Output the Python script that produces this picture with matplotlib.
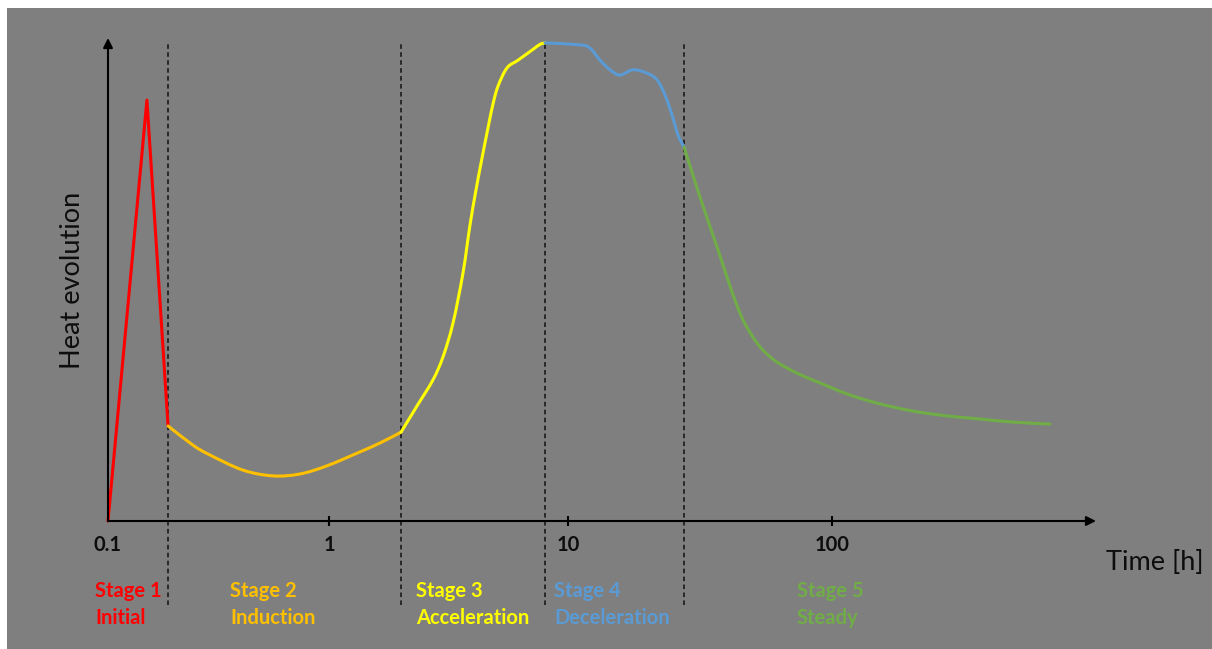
import numpy as np
import matplotlib
matplotlib.use("Agg")
import matplotlib.pyplot as plt
from matplotlib.patches import Rectangle, PathPatch
from matplotlib.path import Path
from matplotlib.ticker import NullLocator

# ---------------- data ----------------
stage1_t = [0.1, 0.150, 0.187]
stage1_h = [0.0, 87.7, 19.8]

stage2_t = [0.187, 0.2424, 0.2893, 0.4083, 0.5580, 0.7392, 0.9794, 1.348, 1.634, 2.001]
stage2_h = [19.8, 15.8, 13.75, 10.6, 9.4, 9.8, 11.5, 14.4, 16.25, 18.5]

stage3_t = [2.001, 2.334, 2.723, 2.999, 3.303, 3.636, 3.890, 4.121, 4.367, 4.627,
            4.856, 5.096, 5.556, 6.178, 7.069, 7.634, 8.013]
stage3_h = [18.5, 23.96, 29.4, 34.2, 41.25, 51.67, 61.67, 68.96, 75.6, 81.9,
            86.9, 90.6, 94.4, 96.0, 98.1, 99.3, 99.6]

stage4_t = [8.013, 11.10, 12.12, 13.22, 14.43, 15.74, 17.63, 19.92, 21.74, 23.30,
            24.77, 26.10, 27.51]
stage4_h = [99.6, 99.2, 98.5, 96.0, 94.0, 92.9, 94.0, 93.3, 91.9, 88.75,
            84.6, 80.4, 77.9]

stage5_t = [27.51, 31.62, 37.00, 40.03, 42.92, 46.01, 50.21, 54.77, 61.89, 73.70,
            90.06, 117.0, 152.0, 202.7, 272.6, 363.6, 484.9, 669.5]
stage5_h = [77.9, 67.5, 56.5, 50.8, 46.0, 41.9, 38.3, 35.6, 33.1, 30.8,
            28.75, 26.25, 24.4, 22.9, 21.9, 21.25, 20.6, 20.2]

stage_bounds = [0.187, 2.0, 8.0, 27.5]

tick_values = [0.1, 1, 10, 100]
tick_labels = ["0.1", "1", "10", "100"]

stage_titles = ["Stage 1", "Stage 2", "Stage 3", "Stage 4", "Stage 5"]
stage_names = ["Initial", "Induction", "Acceleration", "Deceleration", "Steady"]
stage_colors = ["#FF0000", "#FFC000", "#FFFF00", "#5B9BD5", "#70AD47"]

# ---------------- figure ----------------
W, H = 1212, 649
FONT = ["Lato", "DejaVu Sans"]
plt.rcParams["font.family"] = FONT

fig = plt.figure(figsize=(W / 100, H / 100), dpi=100)
fig.patch.set_facecolor("white")
fig.patches.append(Rectangle((7 / W, 0), 1 - 7 / W, (H - 8) / H,
                             transform=fig.transFigure, facecolor="#7F7F7F",
                             edgecolor="none", zorder=-10))

ax_left, ax_right, ax_bottom, ax_top = 108, 1100, 521, 35
ax = fig.add_axes([ax_left / W, (H - ax_bottom) / H,
                   (ax_right - ax_left) / W, (ax_bottom - ax_top) / H])
ax.set_facecolor("none")
for s in ax.spines.values():
    s.set_visible(False)

# hand-drawn log axis: decades are not equally spaced
KNOT_LOG = [-1, 0, 1, 2, 3, 4]
KNOT_POS = [0, 221, 460, 724, 988, 1252]


def fwd(x):
    x = np.asarray(x, dtype=float)
    return np.interp(np.log10(np.clip(x, 1e-9, None)), KNOT_LOG, KNOT_POS)


def inv(p):
    p = np.asarray(p, dtype=float)
    return 10 ** np.interp(p, KNOT_POS, KNOT_LOG)


ax.set_xscale("function", functions=(fwd, inv))
ax.set_xlim(0.1, float(inv(ax_right - ax_left)))
ax.set_ylim(0, (ax_bottom - ax_top) / 4.8)

lw = 2.2


def smooth_line(t, h, color):
    """Smoothed line (like a spreadsheet 'smoothed line') through the points."""
    pts = ax.transScale.transform(np.column_stack([t, h]))
    n = len(pts)
    verts = [pts[0]]
    codes = [Path.MOVETO]
    for i in range(n - 1):
        p0 = pts[i - 1] if i > 0 else pts[i]
        p1, p2 = pts[i], pts[i + 1]
        p3 = pts[i + 2] if i + 2 < n else pts[i + 1]
        verts += [p1 + (p2 - p0) / 6.0, p2 - (p3 - p1) / 6.0, p2]
        codes += [Path.CURVE4] * 3
    patch = PathPatch(Path(verts, codes), facecolor="none", edgecolor=color,
                      lw=lw, capstyle="round", joinstyle="round",
                      transform=ax.transLimits + ax.transAxes,
                      clip_on=False, zorder=3)
    ax.add_patch(patch)


ax.plot(stage1_t, stage1_h, color=stage_colors[0], lw=lw,
        solid_joinstyle="round", solid_capstyle="round", zorder=3, clip_on=False)
for (t, h), c in zip([(stage2_t, stage2_h), (stage3_t, stage3_h),
                      (stage4_t, stage4_h), (stage5_t, stage5_h)],
                     stage_colors[1:]):
    smooth_line(t, h, c)

ax.vlines(stage_bounds, -17.5, 99.4, colors="#111111", lw=1.1,
          linestyles=(0, (3, 2.2)), clip_on=False, zorder=2)

# axes arrows
ax.annotate("", xy=(0, 1 - 3 / 486), xytext=(0, 0), xycoords="axes fraction",
            arrowprops=dict(arrowstyle="-|>", lw=1.5, color="black",
                            mutation_scale=14, shrinkA=0, shrinkB=0))
ax.annotate("", xy=(1 - 4 / 992, 0), xytext=(0, 0), xycoords="axes fraction",
            arrowprops=dict(arrowstyle="-|>", lw=1.5, color="black",
                            mutation_scale=14, shrinkA=0, shrinkB=0))

ax.set_xticks(tick_values)
ax.set_xticklabels(tick_labels, fontweight="bold", fontsize=14.5, color="#0D0D0D")
ax.xaxis.set_minor_locator(NullLocator())
ax.tick_params(axis="x", direction="inout", length=7.5, width=1.5,
               color="black", pad=6)
ax.xaxis.get_major_ticks()[0].tick1line.set_visible(False)
ax.set_yticks([])

fig.text(73 / W, 1 - 280 / H, "Heat evolution", rotation=90, ha="center",
         va="center", fontsize=19.5, color="#0D0D0D")
fig.text(1155 / W, 1 - 563 / H, "Time [h]", ha="center", va="center",
         fontsize=19.5, color="#0D0D0D")

label_x = [95, 230, 416, 554, 797]
for x, t1, t2, c in zip(label_x, stage_titles, stage_names, stage_colors):
    fig.text(x / W, 1 - 591 / H, t1, ha="left", va="center", fontsize=14.5,
             fontweight="bold", color=c)
    fig.text(x / W, 1 - 618 / H, t2, ha="left", va="center", fontsize=14.5,
             fontweight="bold", color=c)

fig.savefig("out.png", dpi=100, facecolor=fig.get_facecolor())
